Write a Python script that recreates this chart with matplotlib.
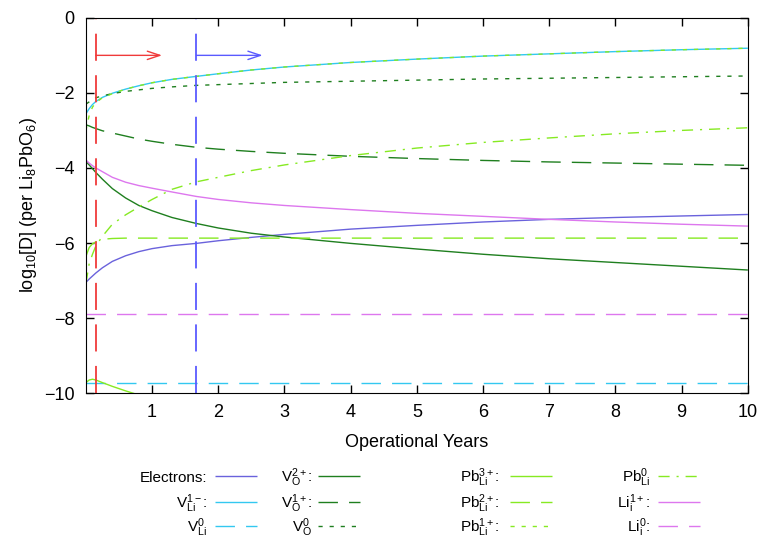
import numpy as np
import matplotlib
matplotlib.use("Agg")
import matplotlib.pyplot as plt
from matplotlib.lines import Line2D

plt.rcParams['font.family'] = ['Liberation Sans', 'DejaVu Sans']
plt.rcParams['mathtext.fontset'] = 'custom'
plt.rcParams['mathtext.rm'] = 'Liberation Sans'
plt.rcParams['mathtext.it'] = 'Liberation Sans'

# sample times (operational years)
years = [0, 0.05, 0.1, 0.15, 0.25, 0.4, 0.6, 0.8, 1, 1.3, 1.67, 2, 2.5, 3, 4, 5, 6, 7, 8, 9, 10]

# log10 concentrations
electrons = [-7.05, -6.96, -6.88, -6.80, -6.66, -6.49, -6.34, -6.23, -6.15, -6.07, -6.01, -5.94, -5.85,
             -5.77, -5.63, -5.53, -5.44, -5.37, -5.32, -5.28, -5.24]
v_li_1m = [-2.56, -2.42, -2.31, -2.23, -2.12, -2.01, -1.90, -1.81, -1.73, -1.64, -1.56, -1.49, -1.39,
           -1.31, -1.19, -1.10, -1.02, -0.96, -0.90, -0.85, -0.81]
v_li_0 = [-9.72] * 21
v_o_2p = [-3.83, -3.92, -4.02, -4.12, -4.30, -4.55, -4.80, -5.00, -5.14, -5.32, -5.48, -5.60, -5.74,
          -5.84, -6.01, -6.16, -6.30, -6.42, -6.52, -6.62, -6.72]
v_o_1p = [-2.85, -2.88, -2.92, -2.95, -3.01, -3.07, -3.15, -3.23, -3.29, -3.37, -3.45, -3.50, -3.56,
          -3.61, -3.69, -3.75, -3.80, -3.84, -3.87, -3.90, -3.93]
v_o_0 = [-2.30, -2.24, -2.18, -2.13, -2.08, -2.02, -1.96, -1.92, -1.88, -1.84, -1.80, -1.78, -1.75,
         -1.72, -1.69, -1.66, -1.63, -1.61, -1.59, -1.57, -1.55]
pb_3p = [-9.72, -9.65, -9.63, -9.65, -9.72, -9.82, -9.94, -10.05, -10.15, -10.3, -10.5, -10.65, -10.9,
         -11.1, -11.5, -11.9, -12.2, -12.5, -12.8, -13.0, -13.2]
pb_2p = [-6.36, -6.12, -6.02, -5.97, -5.90, -5.88, -5.87, -5.87, -5.87, -5.87, -5.87, -5.87, -5.87,
         -5.87, -5.87, -5.87, -5.87, -5.87, -5.87, -5.87, -5.87]
pb_1p = [-3.00, -2.60, -2.38, -2.26, -2.13, -2.02, -1.90, -1.81, -1.73, -1.64, -1.56, -1.49, -1.39,
         -1.31, -1.19, -1.10, -1.02, -0.96, -0.90, -0.85, -0.81]
pb_0 = [-7.08, -6.55, -6.30, -6.08, -5.82, -5.50, -5.25, -5.04, -4.84, -4.57, -4.37, -4.25, -4.07,
        -3.92, -3.67, -3.47, -3.32, -3.20, -3.09, -3.00, -2.93]
li_1p = [-3.79, -3.87, -3.94, -4.00, -4.10, -4.25, -4.38, -4.47, -4.54, -4.64, -4.76, -4.84, -4.93,
         -5.00, -5.11, -5.21, -5.29, -5.37, -5.44, -5.50, -5.55]
li_0 = [-7.88] * 21

# markers in time and their arrows
mark_years = [0.15, 1.67]
mark_colors = ['#f03a3a', '#5a5aff']
arrow_len = 1.0
arrow_y = -1.0

blue = '#6a62dc'
cyan = '#33c8f0'
dgreen = '#1f7f1f'
lime = '#86ea22'
violet = '#dd77ee'

solid = (0, ())
dash = (0, (14, 8))
dot = (0, (3, 5))
dashdot = (0, (8, 5, 1.5, 5))

# label, data, colour, linestyle  (legend order: column by column)
series = [
    ('Electrons:', electrons, blue, solid),
    ('V$_{\\mathrm{Li}}^{1\u2212}$:', v_li_1m, cyan, solid),
    ('V$_{\\mathrm{Li}}^{0}$', v_li_0, cyan, dash),
    ('V$_{\\mathrm{O}}^{2+}$:', v_o_2p, dgreen, solid),
    ('V$_{\\mathrm{O}}^{1+}$:', v_o_1p, dgreen, dash),
    ('V$_{\\mathrm{O}}^{0}$', v_o_0, dgreen, dot),
    ('Pb$_{\\mathrm{Li}}^{3+}$:', pb_3p, lime, solid),
    ('Pb$_{\\mathrm{Li}}^{2+}$:', pb_2p, lime, dash),
    ('Pb$_{\\mathrm{Li}}^{1+}$:', pb_1p, lime, dot),
    ('Pb$_{\\mathrm{Li}}^{0}$', pb_0, lime, dashdot),
    ('Li$_{\\mathrm{i}}^{1+}$:', li_1p, violet, solid),
    ('Li$_{\\mathrm{i}}^{0}$:', li_0, violet, dash),
]

fig = plt.figure(figsize=(7.6, 5.4), dpi=100)
ax = fig.add_axes([0.113, 0.272, 0.871, 0.695])

# cyan drawn before the lime dotted one so both show where they coincide
for label, vals, col, ls in series:
    ax.plot(years, vals, color=col, linestyle=ls, lw=1.0)

for xm, col in zip(mark_years, mark_colors):
    ax.axvline(xm, color=col, lw=1.3, linestyle=(0, (15, 8)))
    ax.annotate('', xy=(xm + arrow_len, arrow_y), xytext=(xm, arrow_y),
                arrowprops=dict(arrowstyle='->,head_length=0.9,head_width=0.3', color=col, lw=1.0,
                                shrinkA=0, shrinkB=0))

ax.set_xlim(0, 10)
ax.set_ylim(-10, 0)
ax.set_xticks(range(1, 11))
ax.set_yticks(range(-10, 1, 2))
ax.tick_params(direction='in', length=6, width=1, top=True, right=True, labelsize=13, pad=8)
ax.set_xlabel('Operational Years', fontsize=13, labelpad=9)
ax.set_ylabel('log$_{10}$[D] (per Li$_{8}$PbO$_{6}$)', fontsize=13, labelpad=4)

# hand-placed legend: label right-aligned, sample line to its right
col_text_x = [207, 312, 500, 650]
col_line_x = [215, 318, 510, 658]
row_y = [478, 504, 528]
line_w = 42
W, H = 760, 540
for i, (label, vals, col, ls) in enumerate(series):
    c, r = divmod(i, 3)
    fig.text(col_text_x[c] / W, 1 - row_y[r] / H, label, ha='right', va='center', fontsize=11)
    x0 = col_line_x[c] / W
    x1 = (col_line_x[c] + line_w) / W
    yy = 1 - (row_y[r] - 2) / H
    fig.add_artist(Line2D([x0, x1], [yy, yy], color=col, linestyle=ls, lw=1.0,
                          transform=fig.transFigure))

fig.savefig('out.png', dpi=100)
